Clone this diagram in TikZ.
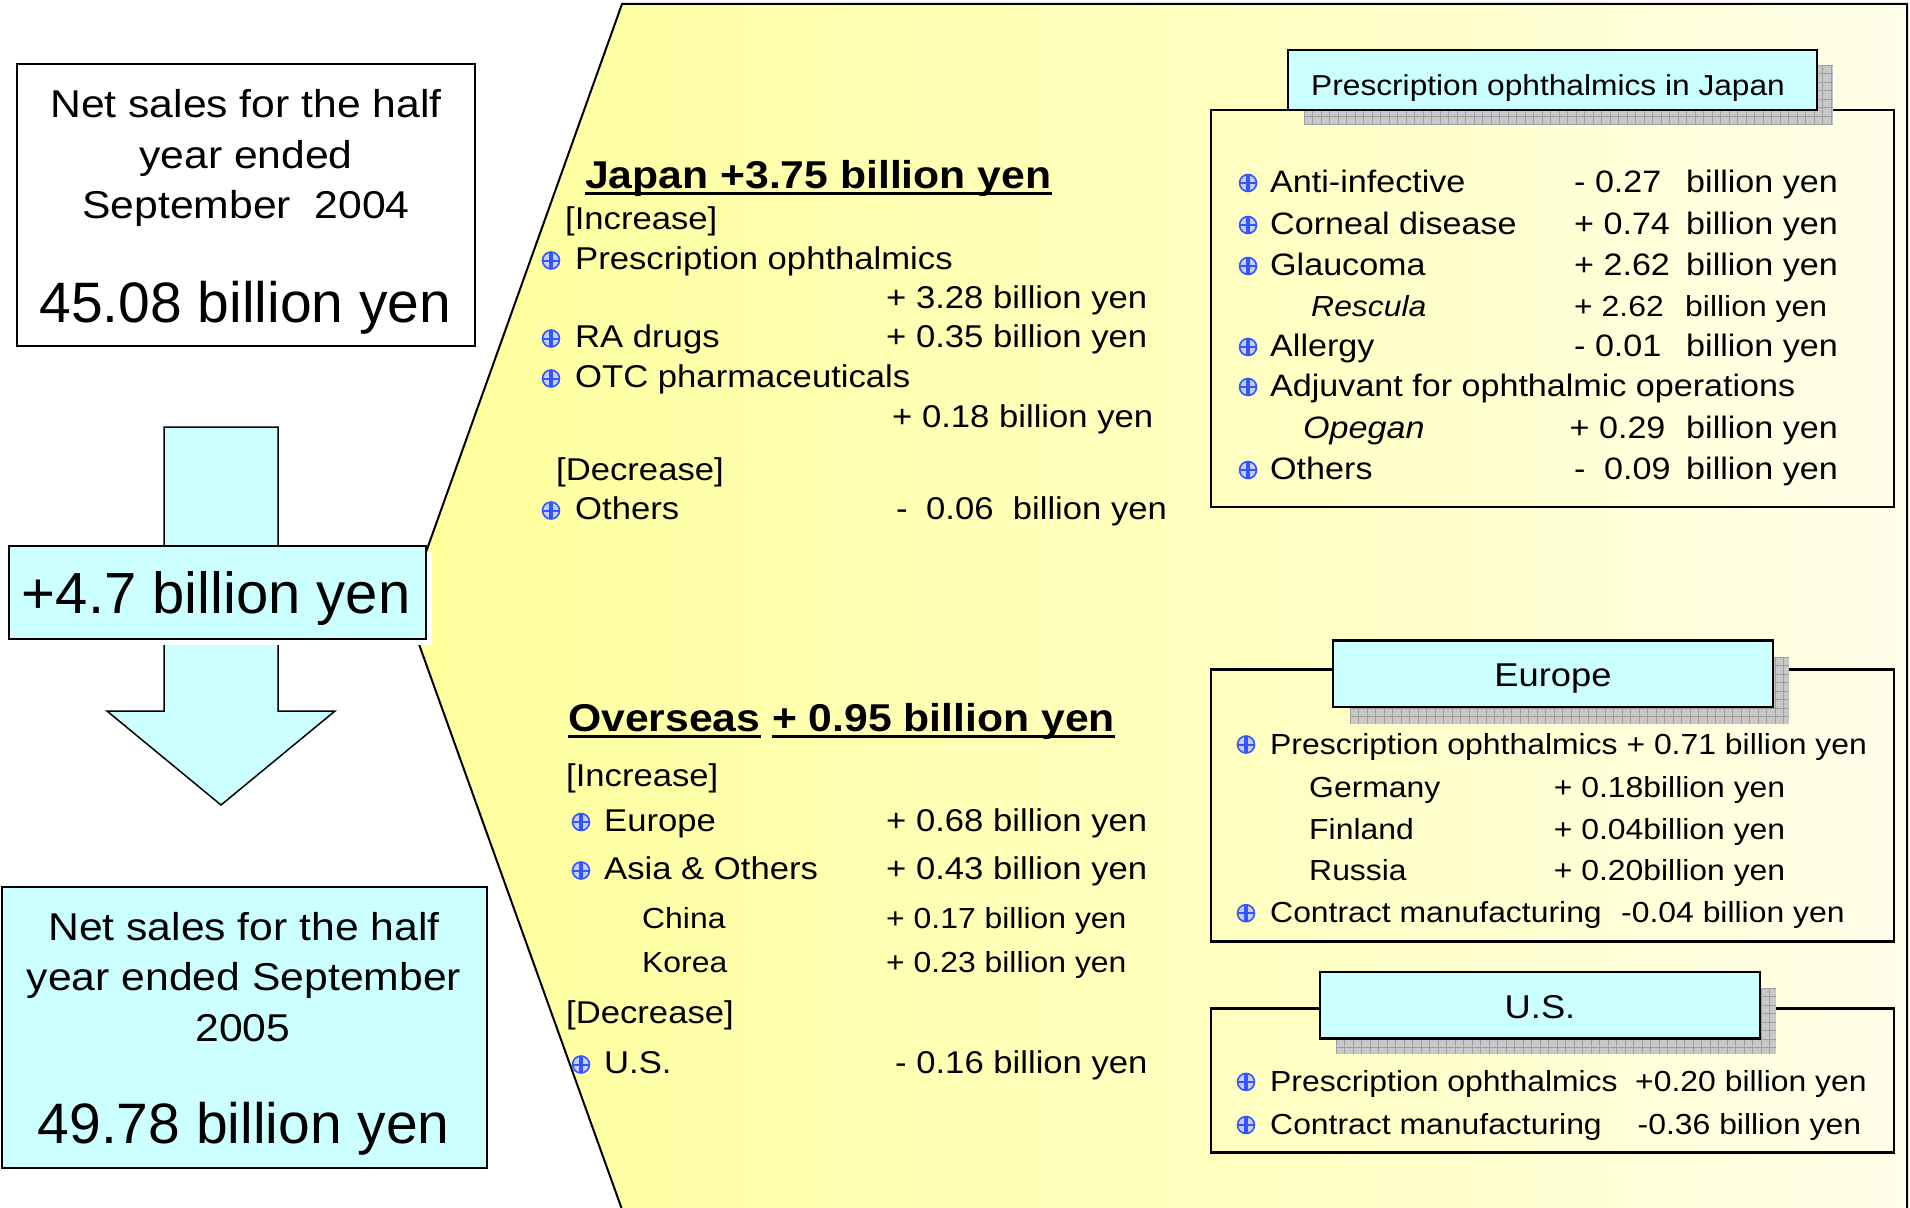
\documentclass[tikz,border=0pt]{standalone}
\usepackage{fontspec}
\setmainfont{Liberation Sans}[FakeStretch=1.1]
\newfontfamily\plainf{Liberation Sans}
\definecolor{cyanbox}{HTML}{CCFFFF}
\definecolor{yel}{HTML}{FFFF99}
\definecolor{yelb}{HTML}{FFFFC4}
\definecolor{yelc}{HTML}{FFFFF4}
\definecolor{bulblue}{HTML}{3355FF}
\definecolor{shadowgray}{HTML}{C8C8C8}
\definecolor{gridgray}{HTML}{9E9E9E}
\pgfdeclarehorizontalshading{yelfade}{100bp}{color(0bp)=(yel); color(22bp)=(yel); color(55bp)=(yelb); color(80bp)=(yelc); color(100bp)=(white)}
\newcommand\fsz[1]{\fontsize{#1}{#1}\selectfont}
\newcommand\shbox[4]{%
  \fill[shadowgray] (#1,#2) rectangle (#3,#4);
  \begin{scope}
    \clip (#1,#2) rectangle (#3,#4);
    \foreach \gx in {0,8.5,...,560} \draw[gridgray, line width=0.8] ({#1+\gx},#2) -- ({#1+\gx},#4);
    \foreach \gy in {0,8.5,...,80} \draw[gridgray, line width=0.8] (#1,{#2+\gy}) -- (#3,{#2+\gy});
  \end{scope}}
\tikzset{
  txt/.style={inner sep=0, anchor=base west, font=\fsz{31.5}},
  rtxt/.style={inner sep=0, anchor=base west, font=\fsz{31}},
  etxt/.style={inner sep=0, anchor=base west, font=\fsz{29}},
  ctxt/.style={inner sep=0, anchor=base, font=\fsz{38.8}},
  bigtxt/.style={inner sep=0, anchor=base, font=\plainf\fsz{57}},
  ttl/.style={inner sep=0, anchor=base west, font=\bfseries\fsz{38.8}},
  frame/.style={draw=black, line width=2.8},
  hdr/.style={draw=black, fill=cyanbox, line width=2.5},
  bul/.style={circle, inner sep=0, minimum size=17, draw=bulblue, line width=1.6, fill=bulblue!28,
    path picture={\draw[bulblue, line width=3.2] (path picture bounding box.north) -- (path picture bounding box.south);
                  \draw[bulblue, line width=2] (path picture bounding box.west) -- (path picture bounding box.east);}},
}
\begin{document}
\begin{tikzpicture}[x=1pt, y=-1pt]
\useasboundingbox (0,0) rectangle (1910,1207);
\fill[white] (0,0) rectangle (1910,1207);
% yellow fan
\shade[shading=yelfade] (622,4) -- (1907,4) -- (1907,1215) -- (624,1215) -- (406,608) -- cycle;
\draw[line width=2] (624,1215) -- (406,608) -- (622,4) -- (1907,4) -- (1907,1215);
% arrow
\draw[fill=cyanbox, line width=1.5] (164,427) -- (278,427) -- (278,711) -- (335,711) -- (221,805) -- (107,711) -- (164,711) -- cycle;
% top-left box
\draw[line width=2.5, fill=white] (17,64) rectangle (475,346);
\node[ctxt] (t1) at (246,117) {Net sales for the half};
\node[ctxt] (t2) at (246,168) {year ended};
\node[ctxt] (t3) at (246,218) {September\ \ 2004};
\node[bigtxt] (t4) at (245.5,322) {45.08 billion yen};
% +4.7 box
\fill[white] (14,552) rectangle (432,645);
\draw[line width=2.5, fill=cyanbox] (9,546) rectangle (426,639);
\node[inner sep=0, anchor=base west, font=\plainf\fsz{58}] (inc) at (21.7,613) {+4.7 billion yen};
% bottom-left box
\draw[line width=2.5, fill=cyanbox] (2,887) rectangle (487,1168);
\node[ctxt] (b1) at (244,940) {Net sales for the half};
\node[ctxt] (b2) at (244,990) {year ended September};
\node[ctxt] (b3) at (243,1041) {2005};
\node[bigtxt] (b4) at (243.7,1143) {49.78 billion yen};
% Japan section
\node[ttl] (jt) at (585,188) {Japan +3.75 billion yen};
\draw[line width=3] ([yshift=-5.5]jt.base west) -- ([yshift=-5.5]jt.base east);
\node[txt] (ji) at (565,229) {[Increase]};
\node[bul] (bj1) at (551,260.5) {};
\node[txt] (j1) at (575,269) {Prescription ophthalmics};
\node[txt] (j1v) at (886,308) {+ 3.28 billion yen};
\node[bul] (bj2) at (551,338.5) {};
\node[txt] (j2) at (575,347) {RA drugs};
\node[txt] (j2v) at (886,347) {+ 0.35 billion yen};
\node[bul] (bj3) at (551,378.5) {};
\node[txt] (j3) at (575,387) {OTC pharmaceuticals};
\node[txt] (j3v) at (892,427) {+ 0.18 billion yen};
\node[txt] (jd) at (556,480) {[Decrease]};
\node[bul] (bj4) at (551,510.5) {};
\node[txt] (j4) at (575,519) {Others};
\node[txt] (j4m) at (896,519) {-};
\node[txt] (j4v) at (926,519) {0.06\ \ billion yen};
% Overseas section
\node[ttl] (ot1) at (568,731) {Overseas};
\node[ttl] (ot2) at (772,731) {+ 0.95 billion yen};
\draw[line width=3] ([yshift=-5.5]ot1.base west) -- ([yshift=-5.5]ot1.base east);
\draw[line width=3] ([yshift=-5.5]ot2.base west) -- ([yshift=-5.5]ot2.base east);
\node[txt] (oi) at (566,786) {[Increase]};
\node[bul] (bo1) at (581,822) {};
\node[txt] (o1) at (604,831) {Europe};
\node[txt] (o1v) at (886,831) {+ 0.68 billion yen};
\node[bul] (bo2) at (581,870.5) {};
\node[txt] (o2) at (604,879) {Asia \& Others};
\node[txt] (o2v) at (886,879) {+ 0.43 billion yen};
\node[txt, font=\fsz{29}] (o3) at (642,928) {China};
\node[txt, font=\fsz{29}] (o3v) at (886,928) {+ 0.17 billion yen};
\node[txt, font=\fsz{29}] (o4) at (642,972) {Korea};
\node[txt, font=\fsz{29}] (o4v) at (886,972) {+ 0.23 billion yen};
\node[txt] (od) at (566,1023) {[Decrease]};
\node[bul] (bo3) at (581,1064.5) {};
\node[txt] (o5) at (604,1073) {U.S.};
\node[txt] (o5v) at (895,1073) {- 0.16 billion yen};
% Right: Japan prescription box
\draw[frame] (1211,110) rectangle (1894,507);
\shbox{1304}{65}{1833}{125}
\draw[hdr] (1288,50) rectangle (1817,110);
\node[inner sep=0, anchor=base west, font=\fsz{28.8}] (jh) at (1311,95) {Prescription ophthalmics in Japan};
\node[bul] (br1) at (1248,183) {};
\node[rtxt] (r1) at (1270,192) {Anti-infective};
\node[rtxt] (r1v) at (1574,192) {- 0.27};
\node[rtxt] (r1b) at (1686,192) {billion yen};
\node[bul] (br2) at (1248,225) {};
\node[rtxt] (r2) at (1270,234) {Corneal disease};
\node[rtxt] (r2v) at (1574,234) {+ 0.74};
\node[rtxt] (r2b) at (1686,234) {billion yen};
\node[bul] (br3) at (1248,266) {};
\node[rtxt] (r3) at (1270,275) {Glaucoma};
\node[rtxt] (r3v) at (1574,275) {+ 2.62};
\node[rtxt] (r3b) at (1686,275) {billion yen};
\node[rtxt, font=\itshape\fsz{29}] (r4) at (1311,316) {Rescula};
\node[rtxt, font=\fsz{29}] (r4v) at (1574,316) {+ 2.62};
\node[rtxt, font=\fsz{29}] (r4b) at (1685,316) {billion yen};
\node[bul] (br5) at (1248,347) {};
\node[rtxt] (r5) at (1270,356) {Allergy};
\node[rtxt] (r5v) at (1574,356) {- 0.01};
\node[rtxt] (r5b) at (1686,356) {billion yen};
\node[bul] (br6) at (1248,387) {};
\node[rtxt] (r6) at (1270,396) {Adjuvant for ophthalmic operations};
\node[rtxt, font=\itshape\fsz{31}] (r7) at (1303,438) {Opegan};
\node[rtxt] (r7v) at (1569.5,438) {+ 0.29};
\node[rtxt] (r7b) at (1686,438) {billion yen};
\node[bul] (br8) at (1248,470) {};
\node[rtxt] (r8) at (1270,479) {Others};
\node[rtxt] (r8m) at (1574,479) {-};
\node[rtxt] (r8v) at (1604,479) {0.09};
\node[rtxt] (r8b) at (1686,479) {billion yen};
% Right: Europe box
\draw[frame] (1211,669.6) rectangle (1894,941.6);
\shbox{1350}{657}{1789}{723.7}
\draw[hdr] (1333,640.3) rectangle (1773,706.8);
\node[inner sep=0, anchor=base, font=\fsz{33}] (eh) at (1553,686.8) {Europe};
\node[bul] (be1) at (1246,744.5) {};
\node[etxt] (e1) at (1270,754) {Prescription ophthalmics + 0.71 billion yen};
\node[etxt] (e2) at (1309,797) {Germany};
\node[etxt] (e2v) at (1553.6,797) {+ 0.18billion yen};
\node[etxt] (e3) at (1309,839) {Finland};
\node[etxt] (e3v) at (1553.6,839) {+ 0.04billion yen};
\node[etxt] (e4) at (1309,880.7) {Russia};
\node[etxt] (e4v) at (1553.6,880.7) {+ 0.20billion yen};
\node[bul] (be5) at (1246,913.2) {};
\node[etxt] (e5) at (1270,922.7) {Contract manufacturing};
\node[etxt] (e5v) at (1621,922.7) {-0.04 billion yen};
% Right: U.S. box
\draw[frame] (1211,1008.8) rectangle (1894,1152.7);
\shbox{1336}{988}{1776}{1054}
\draw[hdr] (1320,972) rectangle (1760,1038.7);
\node[inner sep=0, anchor=base, font=\fsz{33}] (uh) at (1540,1018.4) {U.S.};
\node[bul] (bu1) at (1246,1081.9) {};
\node[etxt] (u1) at (1270,1091.4) {Prescription ophthalmics};
\node[etxt] (u1v) at (1635,1091.4) {+0.20 billion yen};
\node[bul] (bu2) at (1246,1125) {};
\node[etxt] (u2) at (1270,1134.5) {Contract manufacturing};
\node[etxt] (u2v) at (1637.5,1134.5) {-0.36 billion yen};
\end{tikzpicture}
\end{document}
